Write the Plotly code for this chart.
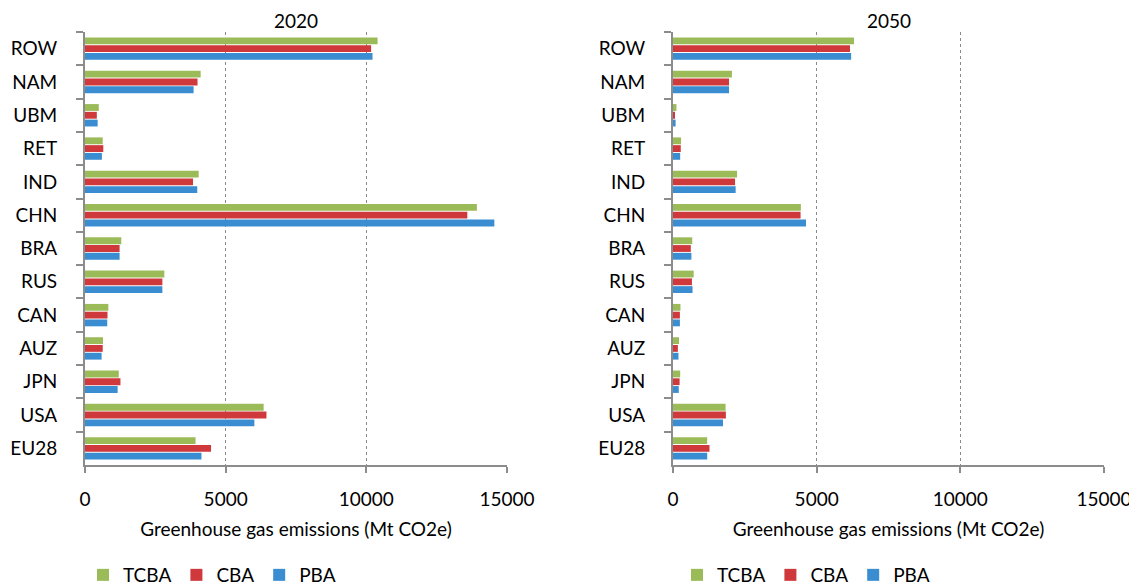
import plotly.graph_objects as go

regions = ["ROW", "NAM", "UBM", "RET", "IND", "CHN", "BRA", "RUS", "CAN", "AUZ", "JPN", "USA", "EU28"]
series_names = ["TCBA", "CBA", "PBA"]

tcba_2020 = [10400, 4110, 490, 630, 4040, 13930, 1290, 2820, 830, 640, 1200, 6350, 3930]
cba_2020 = [10170, 4000, 420, 650, 3840, 13590, 1230, 2750, 800, 630, 1260, 6450, 4480]
pba_2020 = [10220, 3860, 450, 600, 3990, 14550, 1230, 2750, 790, 590, 1160, 6020, 4140]

tcba_2050 = [6300, 2050, 120, 280, 2230, 4450, 670, 720, 260, 210, 250, 1830, 1190]
cba_2050 = [6160, 1950, 60, 270, 2160, 4440, 620, 660, 240, 170, 230, 1840, 1270]
pba_2050 = [6200, 1950, 90, 250, 2180, 4630, 640, 680, 240, 190, 200, 1740, 1190]

panel_titles = ["2020", "2050"]
x_ticks = [0, 5000, 10000, 15000]
x_title = "Greenhouse gas emissions (Mt CO2e)"

colors = {"TCBA": "#9BBB59", "CBA": "#D0393B", "PBA": "#3A8DD0"}
FONT = "Lato, 'Open Sans', sans-serif"

data = {
    "2020": {"TCBA": tcba_2020, "CBA": cba_2020, "PBA": pba_2020},
    "2050": {"TCBA": tcba_2050, "CBA": cba_2050, "PBA": pba_2050},
}

# page body has an 8px margin; figure is sized to fill the rest of the window
OFF = 8
W, H = 1137 - OFF, 588 - OFF


def px(xp):
    return (xp - OFF) / W


def py(yp):
    return 1 - (yp - OFF) / H


fig = go.Figure()

axes = [("x", "y", "legend"), ("x2", "y2", "legend2")]
for (xa, ya, lg), yr in zip(axes, panel_titles):
    for s in series_names:
        fig.add_trace(go.Bar(
            y=regions, x=data[yr][s], orientation="h", name=s,
            marker=dict(color=colors[s], line=dict(width=0)),
            xaxis=xa, yaxis=ya, legend=lg,
        ))

y_dom = [py(465), py(32)]
x_doms = [[px(85), px(507)], [px(673), px(1104)]]

common_x = dict(
    range=[0, 15000], tickvals=x_ticks, ticktext=[str(v) for v in x_ticks],
    showgrid=True, gridcolor="#8a8a8a", griddash="dot", gridwidth=1,
    showline=True, linecolor="#8c8c8c", linewidth=2,
    ticks="outside", ticklen=6, tickcolor="#8c8c8c", tickwidth=2,
    tickfont=dict(family=FONT, size=19, color="#000"),
    ticklabelstandoff=10,
    title=dict(text=x_title, font=dict(family=FONT, size=19, color="#000"), standoff=14),
    zeroline=False, fixedrange=True, automargin=False,
)
common_y = dict(
    autorange="reversed", showline=True, linecolor="#8c8c8c", linewidth=2,
    ticks="outside", ticklen=7, tickcolor="#8c8c8c", tickwidth=2, tickson="boundaries",
    tickfont=dict(family=FONT, size=19, color="#000"), ticklabelstandoff=22,
    showgrid=False, zeroline=False, fixedrange=True, automargin=False,
)

fig.update_layout(
    width=W, height=H,
    margin=dict(l=0, r=0, t=0, b=0, autoexpand=False),
    paper_bgcolor="white", plot_bgcolor="white",
    barmode="group", bargap=0.3, bargroupgap=0.12,
    font=dict(family=FONT, size=19, color="#000"),
    xaxis=dict(domain=x_doms[0], anchor="y", **common_x),
    yaxis=dict(domain=y_dom, anchor="x", **common_y),
    xaxis2=dict(domain=x_doms[1], anchor="y2", **common_x),
    yaxis2=dict(domain=y_dom, anchor="x2", **common_y),
    legend=dict(orientation="h", x=px(212), xanchor="center", y=py(575), yanchor="middle",
                font=dict(family=FONT, size=19), itemwidth=30, tracegroupgap=0),
    legend2=dict(orientation="h", x=px(806), xanchor="center", y=py(575), yanchor="middle",
                 font=dict(family=FONT, size=19), itemwidth=30, tracegroupgap=0),
    showlegend=True,
    annotations=[
        dict(text=panel_titles[0], x=(x_doms[0][0] + x_doms[0][1]) / 2, y=py(20),
             xanchor="center", yanchor="middle",
             xref="paper", yref="paper", showarrow=False, font=dict(family=FONT, size=19)),
        dict(text=panel_titles[1], x=(x_doms[1][0] + x_doms[1][1]) / 2, y=py(20),
             xanchor="center", yanchor="middle",
             xref="paper", yref="paper", showarrow=False, font=dict(family=FONT, size=19)),
    ],
)

fig.write_html("out.html")
